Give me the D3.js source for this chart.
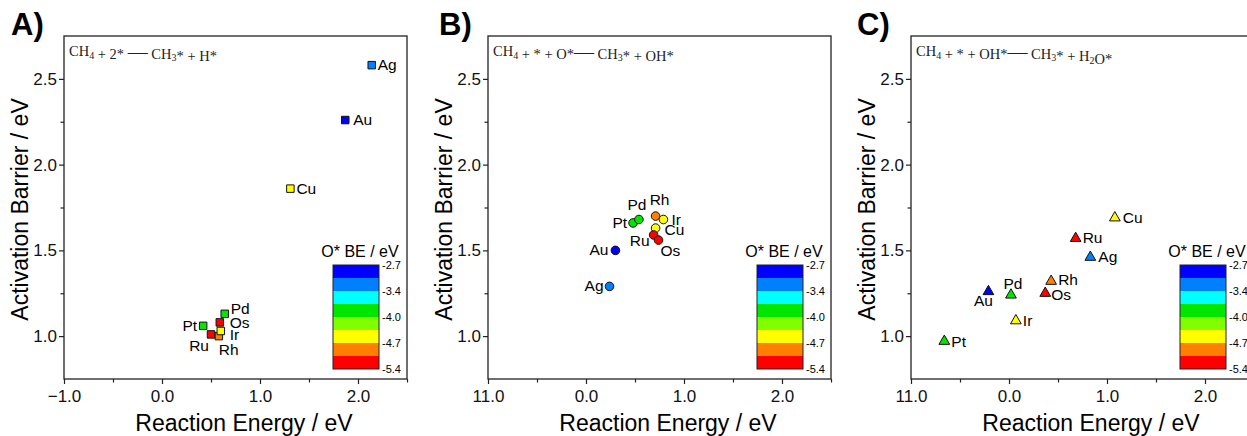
<!DOCTYPE html>
<html>
<head>
<meta charset="utf-8">
<script src="https://cdn.jsdelivr.net/npm/d3@7"></script>
<style>
  body { margin: 0; background: #fff; }
  svg { display: block; font-family: Arial, "Liberation Sans", sans-serif; }
</style>
</head>
<body>
<script>
// ---- data ----
const xTicks = [-1, 0, 1, 2];
const xTickLabelsA = ['\u22121.0', '0.0', '1.0', '2.0'];
const xTickLabelsBC = ['11.0', '0.0', '1.0', '2.0'];
const yTicks = [1.0, 1.5, 2.0, 2.5];
const yTickLabels = ['1.0', '1.5', '2.0', '2.5'];

// O* binding energy per metal (sets the marker colour)
const metals = ['Au', 'Ag', 'Pd', 'Pt', 'Cu', 'Ir', 'Rh', 'Ru', 'Os'];
const oxygenBE = [-2.9, -3.2, -3.9, -3.8, -4.6, -4.5, -4.9, -5.2, -5.3];

const bandColors = ['#0000ff', '#0080ff', '#00ffff', '#00e600', '#80ff00', '#ffff00', '#ff8000', '#ff0000'];
const legendLabels = ['-2.7', '-3.4', '-4.0', '-4.7', '-5.4'];

// A) CH4 + 2* -> CH3* + H*
const namesA = ['Ag', 'Au', 'Cu', 'Rh', 'Ru', 'Ir', 'Pt', 'Os', 'Pd'];
const energyA = [2.14, 1.87, 1.31, 0.58, 0.50, 0.60, 0.42, 0.59, 0.64];
const barrierA = [2.58, 2.26, 1.86, 1.00, 1.01, 1.03, 1.06, 1.08, 1.13];

// B) CH4 + * + O* -> CH3* + OH*
const namesB = ['Ag', 'Au', 'Pt', 'Pd', 'Rh', 'Ir', 'Cu', 'Ru', 'Os'];
const energyB = [0.24, 0.30, 0.48, 0.54, 0.71, 0.79, 0.71, 0.69, 0.74];
const barrierB = [1.29, 1.50, 1.66, 1.68, 1.70, 1.68, 1.63, 1.59, 1.56];

// C) CH4 + * + OH* -> CH3* + H2O*
const namesC = ['Pt', 'Au', 'Pd', 'Ir', 'Os', 'Rh', 'Ag', 'Ru', 'Cu'];
const energyC = [-0.66, -0.21, 0.02, 0.07, 0.37, 0.43, 0.83, 0.68, 1.08];
const barrierC = [0.97, 1.26, 1.24, 1.09, 1.25, 1.32, 1.46, 1.57, 1.69];

// ---- label placement (dx, dy, anchor) ----
const placeA = {Ag: [6, 5, 'start'], Au: [8, 5, 'start'], Cu: [6, 5, 'start'], Pd: [6, 0, 'start'],
  Os: [10, 6, 'start'], Ir: [9, 9, 'start'], Pt: [-6, 5, 'end'], Ru: [-2, 17, 'end'], Rh: [0, 19, 'start']};
const placeB = {Pd: [-2, -10, 'middle'], Rh: [4, -11, 'middle'], Ir: [8, 5, 'start'], Cu: [9, 7, 'start'],
  Ru: [-4, 11, 'end'], Os: [2, 16, 'start'], Au: [-7, 5, 'end'], Ag: [-6, 5, 'end'], Pt: [-6, 5, 'end']};
const placeC = {Cu: [8, 5, 'start'], Ru: [7, 5, 'start'], Ag: [8, 5, 'start'], Rh: [7, 4, 'start'],
  Os: [6, 7, 'start'], Au: [-5, 14, 'middle'], Pd: [2, -6, 'middle'], Ir: [7, 5, 'start'], Pt: [7, 6, 'start']};

// ---- layout ----
const plotTop = 36;
const plotW = 343;
const plotH = 343;
const ink = '#222';

const svg = d3.select('body').append('svg')
  .attr('width', 1247)
  .attr('height', 436);

const x = d3.scaleLinear().domain([-1, 2.5]).range([0, plotW]);
const y = d3.scaleLinear().domain([0.75, 2.75]).range([plotH, 0]);
const color = d3.scaleQuantize().domain([-5.4, -2.7]).range(bandColors.slice().reverse());
const beOf = new Map(metals.map((m, i) => [m, oxygenBE[i]]));

const panels = [
  {left: 64, letter: 'A)', letterX: 11, xLabels: xTickLabelsA, eq: 'CH_4 + 2* \u2014 CH_3* + H*',
    names: namesA, xs: energyA, ys: barrierA, symbol: d3.symbolSquare, size: 56, place: placeA},
  {left: 488, letter: 'B)', letterX: 439, xLabels: xTickLabelsBC, eq: 'CH_4 + * + O*\u2014 CH_3* + OH*',
    names: namesB, xs: energyB, ys: barrierB, symbol: d3.symbolCircle, size: 58, place: placeB},
  {left: 911, letter: 'C)', letterX: 857, xLabels: xTickLabelsBC, eq: 'CH_4 + * + OH*\u2014 CH_3* + H_2O*',
    names: namesC, xs: energyC, ys: barrierC, symbol: d3.symbolTriangle, size: 50, place: placeC}
];

const styleAxis = (sel) => {
  sel.select('.domain').remove();
  sel.selectAll('line').attr('stroke', ink).attr('stroke-width', 1.2);
  sel.selectAll('text').attr('fill', '#111').attr('font-size', 17)
    .attr('font-family', 'Arial, "Liberation Sans", sans-serif');
};

const draw = (p) => {
  svg.append('text')
    .attr('x', p.letterX).attr('y', 35)
    .attr('font-size', 31).attr('font-weight', 'bold')
    .text(p.letter);

  const g = svg.append('g').attr('transform', `translate(${p.left},${plotTop})`);

  // axes: major then minor ticks
  g.append('g').attr('transform', `translate(0,${plotH})`)
    .call(d3.axisBottom(x).tickValues(xTicks).tickSize(5).tickPadding(6)
      .tickFormat((d, i) => p.xLabels[i]))
    .call(styleAxis);
  g.append('g').attr('transform', `translate(0,${plotH})`)
    .call(d3.axisBottom(x).tickValues([-0.5, 0.5, 1.5, 2.5]).tickSize(3.5).tickFormat(''))
    .call(styleAxis);
  g.append('g')
    .call(d3.axisLeft(y).tickValues(yTicks).tickSize(5).tickPadding(2)
      .tickFormat((d, i) => yTickLabels[i]))
    .call(styleAxis);
  g.append('g')
    .call(d3.axisLeft(y).tickValues([1.25, 1.75, 2.25]).tickSize(3.5).tickFormat(''))
    .call(styleAxis);

  g.append('rect')
    .attr('width', plotW).attr('height', plotH)
    .attr('fill', 'none').attr('stroke', ink).attr('stroke-width', 1.3);

  // axis titles
  g.append('text')
    .attr('transform', `translate(-36,${plotH / 2 + 2}) rotate(-90)`)
    .attr('text-anchor', 'middle').attr('font-size', 23)
    .text('Activation Barrier / eV');
  g.append('text')
    .attr('x', 180).attr('y', 395)
    .attr('text-anchor', 'middle').attr('font-size', 23)
    .text('Reaction Energy / eV');

  // reaction equation, "_n" marks a subscript
  const eq = g.append('text')
    .attr('x', 5).attr('y', 20)
    .attr('font-family', '"Times New Roman", "Liberation Serif", serif')
    .attr('font-size', 14.5).attr('fill', '#222');
  p.eq.split(/(_\d|\u2014)/).filter((s) => s).forEach((s) => {
    if (s[0] === '_') {
      eq.append('tspan').attr('font-size', 10).attr('dy', 2.5).text(s.slice(1));
      eq.append('tspan').attr('dy', -2.5).text('');
    } else if (s === '\u2014') {
      eq.append('tspan').attr('font-size', 20).text(s);
    } else {
      eq.append('tspan').text(s);
    }
  });

  // markers
  const pts = p.names.map((n, i) => ({name: n, x: p.xs[i], y: p.ys[i]}));
  g.selectAll('.pt')
    .data(pts)
    .enter().append('path')
    .attr('class', 'pt')
    .attr('transform', (d) => `translate(${x(d.x)},${y(d.y)})`)
    .attr('d', d3.symbol(p.symbol, p.size))
    .attr('fill', (d) => color(beOf.get(d.name)))
    .attr('stroke', '#111').attr('stroke-width', 1);

  g.selectAll('.lbl')
    .data(pts)
    .enter().append('text')
    .attr('class', 'lbl')
    .attr('x', (d) => x(d.x) + p.place[d.name][0])
    .attr('y', (d) => y(d.y) + p.place[d.name][1])
    .attr('text-anchor', (d) => p.place[d.name][2])
    .attr('font-size', 15.5)
    .text((d) => d.name);

  // colour bar legend
  const band = 13;
  const lg = g.append('g').attr('transform', `translate(269,229)`);
  lg.selectAll('rect')
    .data(bandColors)
    .enter().append('rect')
    .attr('y', (d, i) => i * band)
    .attr('width', 46).attr('height', band)
    .attr('fill', (d) => d);
  lg.append('rect')
    .attr('width', 46).attr('height', band * bandColors.length)
    .attr('fill', 'none').attr('stroke', ink).attr('stroke-width', 1);
  const ly = d3.scaleLinear().domain([0, legendLabels.length - 1]).range([0, band * bandColors.length]);
  lg.selectAll('.ll')
    .data(legendLabels)
    .enter().append('text')
    .attr('class', 'll')
    .attr('x', 49).attr('y', (d, i) => ly(i) + 4)
    .attr('font-size', 11)
    .text((d) => d);
  lg.append('text')
    .attr('x', 27).attr('y', -8)
    .attr('text-anchor', 'middle').attr('font-size', 16)
    .text('O* BE / eV');
};

panels.forEach(draw);
</script>
</body>
</html>
